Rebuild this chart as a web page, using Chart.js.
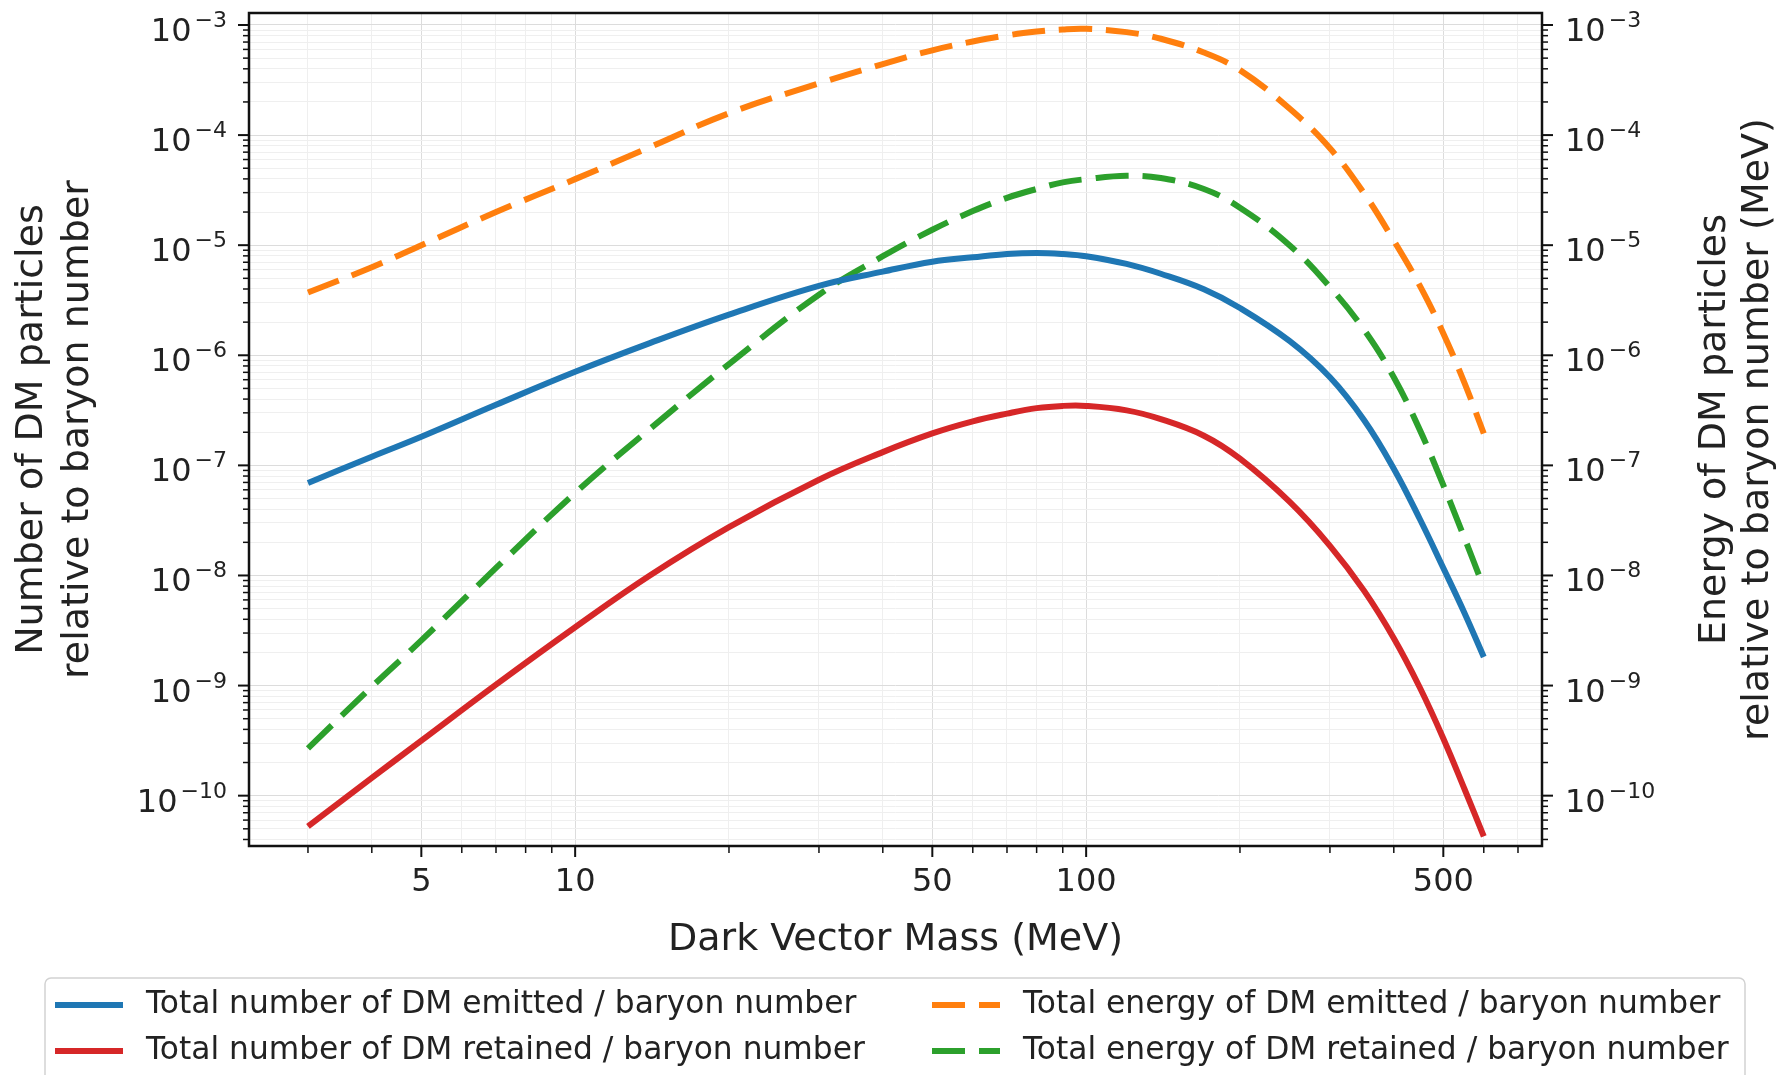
<!DOCTYPE html>
<html>
<head>
<meta charset="utf-8">
<script src="https://cdn.jsdelivr.net/npm/chart.js@4.4.0/dist/chart.umd.min.js"></script>
<style>
  html, body { margin: 0; padding: 0; background: #fff; }
  canvas { display: block; }
</style>
</head>
<body>
<canvas id="chart" width="1783" height="1075"></canvas>
<script>
// dark vector mass (MeV)
const mass = [3, 4, 5, 7, 10, 14, 20, 30, 40, 50, 60, 70, 80, 90, 100, 120, 140, 170, 200, 250, 300, 350, 400, 450, 500, 550, 600];

// number of DM particles / baryon number
const numEmitted = [6.92e-8, 1.20e-7, 1.82e-7, 3.55e-7, 7.08e-7, 1.29e-6, 2.34e-6, 4.27e-6, 5.75e-6, 7.08e-6, 7.76e-6, 8.32e-6, 8.51e-6, 8.32e-6, 7.94e-6, 6.76e-6, 5.50e-6, 3.98e-6, 2.69e-6, 1.35e-6, 6.31e-7, 2.57e-7, 9.33e-8, 3.24e-8, 1.17e-8, 4.57e-9, 1.82e-9];
const numRetained = [5.25e-11, 1.45e-10, 3.16e-10, 1.02e-9, 3.39e-9, 1.00e-8, 2.75e-8, 7.41e-8, 1.32e-7, 1.95e-7, 2.51e-7, 2.95e-7, 3.31e-7, 3.47e-7, 3.47e-7, 3.16e-7, 2.63e-7, 1.86e-7, 1.15e-7, 4.68e-8, 1.86e-8, 7.24e-9, 2.69e-9, 9.55e-10, 3.31e-10, 1.15e-10, 4.27e-11];

// energy of DM particles / baryon number (MeV)
const energyEmitted = [3.72e-6, 6.31e-6, 1.00e-5, 2.00e-5, 3.98e-5, 7.76e-5, 1.58e-4, 2.95e-4, 4.42e-4, 5.89e-4, 7.08e-4, 8.04e-4, 8.71e-4, 9.12e-4, 9.23e-4, 8.61e-4, 7.50e-4, 5.62e-4, 3.89e-4, 1.74e-4, 7.59e-5, 2.95e-5, 1.10e-5, 4.27e-6, 1.58e-6, 5.62e-7, 1.95e-7];
const energyRetained = [2.69e-10, 9.77e-10, 2.57e-9, 1.17e-8, 5.62e-8, 2.14e-7, 8.32e-7, 3.55e-6, 7.94e-6, 1.38e-5, 2.04e-5, 2.69e-5, 3.24e-5, 3.72e-5, 3.98e-5, 4.27e-5, 4.07e-5, 3.24e-5, 2.19e-5, 1.00e-5, 4.17e-6, 1.70e-6, 6.31e-7, 2.09e-7, 6.61e-8, 2.19e-8, 7.76e-9];

const seriesLabels = [
  "Total number of DM emitted / baryon number",
  "Total number of DM retained / baryon number",
  "Total energy of DM emitted / baryon number",
  "Total energy of DM retained / baryon number"
];

const xTickLabels = [5, 10, 50, 100, 500];
const xLimits = [2.30, 780];
const yLimits = [3.49e-11, 1.285e-3];

const FONT = '"DejaVu Sans"';
const TEXT = '#222';
const DASH = [33, 14];

function toPoints(vals) {
  return mass.map((m, i) => ({ x: m, y: vals[i] }));
}

// 1..9 x 10^n ticks inside a range
function logTicks(min, max, isMajor) {
  const out = [];
  for (let e = Math.floor(Math.log10(min)); e <= Math.ceil(Math.log10(max)); e++) {
    for (let k = 1; k <= 9; k++) {
      const v = k * Math.pow(10, e);
      if (v >= min && v <= max) out.push({ value: v, major: isMajor(v, k) });
    }
  }
  return out;
}

const xMajor = (v) => xTickLabels.includes(v);
const yMajor = (v, k) => k === 1;

// tick marks, tick labels, spines, titles and legend
const axisDecor = {
  id: 'axisDecor',
  afterDraw(chart) {
    const ctx = chart.ctx;
    const a = chart.chartArea;
    const xs = chart.scales.x;
    const ys = chart.scales.y;
    const ys2 = chart.scales.y2;
    ctx.save();
    ctx.strokeStyle = '#111';
    ctx.fillStyle = TEXT;

    // x ticks
    ctx.font = '32px ' + FONT;
    ctx.textAlign = 'center';
    ctx.textBaseline = 'middle';
    xs.ticks.forEach(t => {
      const px = xs.getPixelForValue(t.value);
      ctx.lineWidth = t.major ? 2 : 1.5;
      ctx.beginPath();
      ctx.moveTo(px, a.bottom);
      ctx.lineTo(px, a.bottom + (t.major ? 11 : 7));
      ctx.stroke();
      if (t.major) ctx.fillText(String(t.value), px, a.bottom + 37);
    });

    // y ticks, left and right
    [[ys, a.left, -1], [ys2, a.right, 1]].forEach(([sc, x0, dir]) => {
      sc.ticks.forEach(t => {
        const py = sc.getPixelForValue(t.value);
        ctx.lineWidth = t.major ? 2 : 1.5;
        ctx.beginPath();
        ctx.moveTo(x0, py);
        ctx.lineTo(x0 + dir * (t.major ? 11 : 6), py);
        ctx.stroke();
        if (t.major) {
          const exp = Math.round(Math.log10(t.value));
          drawPow(ctx, exp, dir < 0 ? x0 - 22 : x0 + 23, py, dir < 0 ? 'right' : 'left');
        }
      });
    });

    // spines
    ctx.lineWidth = 2.5;
    ctx.strokeStyle = '#111';
    ctx.strokeRect(a.left, a.top, a.right - a.left, a.bottom - a.top);

    // axis titles
    ctx.fillStyle = TEXT;
    ctx.font = '38px ' + FONT;
    ctx.textAlign = 'center';
    ctx.textBaseline = 'middle';
    ctx.fillText('Dark Vector Mass (MeV)', (a.left + a.right) / 2, a.bottom + 94);

    const cy = (a.top + a.bottom) / 2;
    ctx.textBaseline = 'alphabetic';
    drawRotated(ctx, 'Number of DM particles', 42, cy);
    drawRotated(ctx, 'relative to baryon number', 88, cy);
    drawRotated(ctx, 'Energy of DM particles', 1725, cy);
    drawRotated(ctx, 'relative to baryon number (MeV)', 1768, cy);

    // legend
    const box = { x: 45, y: 978, w: 1700, h: 110 };
    ctx.lineWidth = 1.5;
    ctx.strokeStyle = '#d2d2d2';
    ctx.beginPath();
    ctx.roundRect(box.x, box.y, box.w, box.h, 6);
    ctx.stroke();

    const slots = [
      { col: 0, row: 0 }, { col: 0, row: 1 },
      { col: 1, row: 0 }, { col: 1, row: 1 }
    ];
    const colX = [55, 932];
    const rowY = [1005, 1051];
    ctx.font = '31.3px ' + FONT;
    ctx.textAlign = 'left';
    ctx.textBaseline = 'middle';
    chart.data.datasets.forEach((ds, i) => {
      const s = slots[i];
      const x = colX[s.col], y = rowY[s.row];
      ctx.strokeStyle = ds.borderColor;
      ctx.lineWidth = ds.borderWidth;
      ctx.setLineDash(ds.borderDash || []);
      ctx.beginPath();
      ctx.moveTo(x, y);
      ctx.lineTo(x + 68, y);
      ctx.stroke();
      ctx.setLineDash([]);
      ctx.fillStyle = TEXT;
      ctx.fillText(ds.label, x + 91, y);
    });
    ctx.restore();
  }
};

function drawPow(ctx, exp, x, y, align) {
  const base = '10';
  const sup = '\u2212' + Math.abs(exp);
  ctx.font = '32px ' + FONT;
  const wb = ctx.measureText(base).width;
  ctx.font = '22px ' + FONT;
  const ws = ctx.measureText(sup).width;
  const total = wb + 3 + ws;
  const left = align === 'right' ? x - total : x;
  ctx.textAlign = 'left';
  ctx.textBaseline = 'alphabetic';
  ctx.font = '32px ' + FONT;
  ctx.fillText(base, left, y + 16);
  ctx.font = '22px ' + FONT;
  ctx.fillText(sup, left + wb + 3, y + 2);
}

function drawRotated(ctx, text, x, y) {
  ctx.save();
  ctx.translate(x, y);
  ctx.rotate(-Math.PI / 2);
  ctx.textAlign = 'center';
  ctx.fillText(text, 0, 0);
  ctx.restore();
}

const lineStyle = { borderWidth: 6, pointRadius: 0, tension: 0.4, fill: false };

new Chart(document.getElementById('chart'), {
  type: 'line',
  data: {
    datasets: [
      { ...lineStyle, label: seriesLabels[0], data: toPoints(numEmitted), borderColor: '#1f77b4', yAxisID: 'y' },
      { ...lineStyle, label: seriesLabels[1], data: toPoints(numRetained), borderColor: '#d62728', yAxisID: 'y' },
      { ...lineStyle, label: seriesLabels[2], data: toPoints(energyEmitted), borderColor: '#ff7f0e', borderDash: DASH, yAxisID: 'y2' },
      { ...lineStyle, label: seriesLabels[3], data: toPoints(energyRetained), borderColor: '#2ca02c', borderDash: DASH, yAxisID: 'y2' }
    ]
  },
  options: {
    responsive: false,
    animation: false,
    devicePixelRatio: 1,
    layout: { padding: { top: 13, left: 0, right: 0, bottom: 0 } },
    plugins: { legend: { display: false }, tooltip: { enabled: false } },
    scales: {
      x: {
        type: 'logarithmic',
        min: xLimits[0], max: xLimits[1],
        afterBuildTicks: (sc) => { sc.ticks = logTicks(xLimits[0], xLimits[1], xMajor); },
        afterFit: (sc) => { sc.height = 229; },
        ticks: { display: false },
        border: { display: false },
        grid: {
          drawTicks: false,
          lineWidth: 1,
          color: (c) => (c.tick && c.tick.major) ? '#dcdcdc' : '#efefef'
        }
      },
      y: {
        type: 'logarithmic',
        position: 'left',
        min: yLimits[0], max: yLimits[1],
        afterBuildTicks: (sc) => { sc.ticks = logTicks(yLimits[0], yLimits[1], yMajor); },
        afterFit: (sc) => { sc.width = 249; },
        ticks: { display: false },
        border: { display: false },
        grid: {
          drawTicks: false,
          lineWidth: 1,
          color: (c) => (c.tick && c.tick.major) ? '#dcdcdc' : '#efefef'
        }
      },
      y2: {
        type: 'logarithmic',
        position: 'right',
        min: yLimits[0], max: yLimits[1],
        afterBuildTicks: (sc) => { sc.ticks = logTicks(yLimits[0], yLimits[1], yMajor); },
        afterFit: (sc) => { sc.width = 241; },
        ticks: { display: false },
        border: { display: false },
        grid: { display: false, drawTicks: false }
      }
    }
  },
  plugins: [axisDecor]
});
</script>
</body>
</html>
